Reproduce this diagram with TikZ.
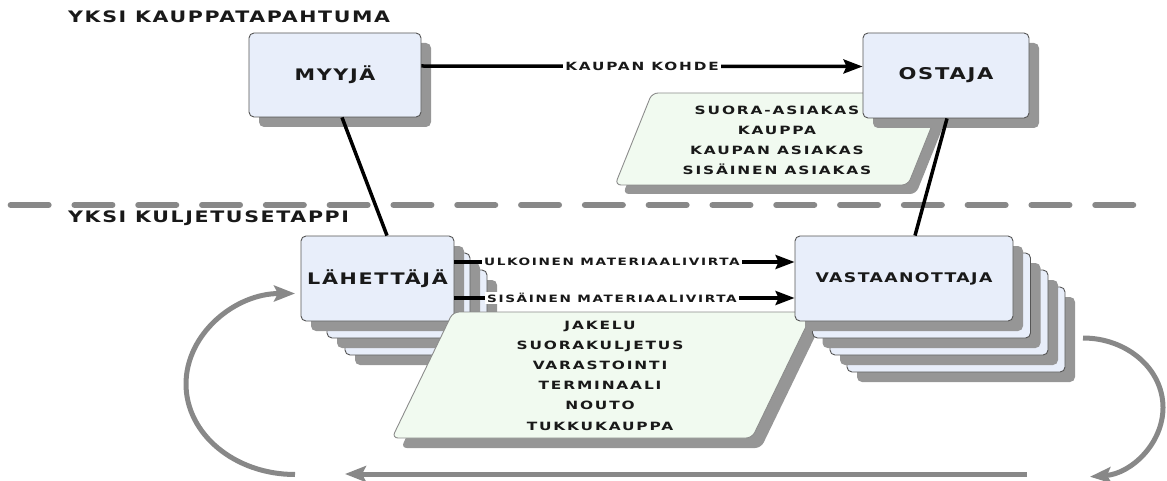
\documentclass[tikz,border=0pt]{standalone}
\usepackage{fontspec}
\usepackage{graphicx}
\usetikzlibrary{arrows.meta,shadows}

% wide, tracked sans for all captions
\newfontfamily\bigf[LetterSpace=8]{DejaVu Sans Bold}
\newfontfamily\smallf[LetterSpace=12]{DejaVu Sans Bold}
\newcommand\wb[1]{\scalebox{1.3}[1]{#1}}
\newcommand\ws[1]{\scalebox{1.35}[1]{#1}}

\definecolor{boxfill}{RGB}{232,238,250}
\definecolor{boxline}{RGB}{85,85,85}
\definecolor{shadowgray}{RGB}{150,150,150}
\definecolor{parafill}{RGB}{241,250,240}
\definecolor{paraline}{RGB}{140,140,140}
\definecolor{loopgray}{RGB}{136,136,136}
\definecolor{ink}{RGB}{25,25,25}

\tikzset{
  blk/.style={draw=boxline, line width=0.9pt, fill=boxfill, rounded corners=5pt,
    inner sep=0pt, text=ink,
    general shadow={fill=shadowgray, shadow xshift=10pt, shadow yshift=-10pt}},
  bigtxt/.style={font=\bigf\fontsize{#1}{#1}\selectfont},
  heading/.style={anchor=west, inner sep=0pt, text=ink, bigtxt=15.8},
  paratxt/.style={align=center, inner sep=0pt, text=ink,
    font=\smallf\fontsize{11.4}{20.2}\selectfont},
  flowlbl/.style={fill=white, inner xsep=2.5pt, inner ysep=1.5pt, text=ink,
    font=\smallf\fontsize{#1}{#1}\selectfont},
  ln/.style={line width=3.5pt, black},
  arr/.style={line width=3.5pt, black, -{Stealth[length=19pt, width=14pt, inset=3pt]}},
  gloop/.style={line width=5pt, loopgray, -{Stealth[length=21pt, width=16pt, inset=4pt]}},
  parabox/.style={fill=parafill, draw=paraline, line width=0.9pt, rounded corners=6pt},
  parashadow/.style={fill=shadowgray, rounded corners=6pt}
}

\begin{document}
\begin{tikzpicture}[x=1pt, y=-1pt]
\useasboundingbox (0,0) rectangle (1167,481);

% boundary between the two levels
\draw[loopgray, line width=6pt, line cap=round, dash pattern=on 38pt off 25.8pt]
  (10.65,205) -- (1134,205);

% level headings
\node[heading] (hdtrade) at (68,17) {\wb{YKSI KAUPPATAPAHTUMA}};
\node[heading] (hdtrans) at (68,218) {\wb{YKSI KULJETUSETAPPI}};

% customer types panel
\begin{scope}[shift={(8,9)}]
  \path[parashadow] (652,93) -- (945,93) -- (908,185) -- (615,185) -- cycle;
\end{scope}
\path[parabox] (652,93) -- (945,93) -- (908,185) -- (615,185) -- cycle;
\node[paratxt] (custtypes) at (777,140.3)
  {\ws{SUORA-ASIAKAS}\\\ws{KAUPPA}\\\ws{KAUPAN ASIAKAS}\\\ws{SISÄINEN ASIAKAS}};

% trade parties
\node[blk, minimum width=172pt, minimum height=84pt, bigtxt=15.9] (myyja) at (335,75) {\wb{MYYJÄ}};
\node[blk, minimum width=166pt, minimum height=85pt, bigtxt=16.2] (ostaja) at (946,75.5) {\wb{OSTAJA}};

% senders (stacked)
\node[blk, minimum width=142pt, minimum height=85pt] (lah3) at (416,312.5) {};
\node[blk, minimum width=143pt, minimum height=85pt] (lah2) at (398.5,295.5) {};
\node[blk, minimum width=153pt, minimum height=85pt, bigtxt=15.9] (lah) at (377.5,278.5) {\wb{LÄHETTÄJÄ}};

% transport types panel
\begin{scope}[shift={(9,10)}]
  \path[parashadow] (453,312) -- (813,312) -- (752,438) -- (392,438) -- cycle;
\end{scope}
\path[parabox] (453,312) -- (813,312) -- (752,438) -- (392,438) -- cycle;
\node[paratxt] (transtypes) at (600,375.5)
  {\ws{JAKELU}\\\ws{SUORAKULJETUS}\\\ws{VARASTOINTI}\\\ws{TERMINAALI}\\\ws{NOUTO}\\\ws{TUKKUKAUPPA}};

% receivers (stacked)
\node[blk, minimum width=218pt, minimum height=85pt] (vas4) at (956,329.5) {};
\node[blk, minimum width=218pt, minimum height=85pt] (vas3) at (939,312.5) {};
\node[blk, minimum width=218pt, minimum height=85pt] (vas2) at (921.5,295.5) {};
\node[blk, minimum width=218pt, minimum height=85pt, bigtxt=13.3] (vas) at (904,278.5) {\wb{VASTAANOTTAJA}};

% links between the levels
\draw[ln] ([xshift=7pt]myyja.south) -- ([xshift=9.5pt]lah.north);
\draw[ln] ([xshift=1pt]ostaja.south) -- ([xshift=11pt]vas.north);

% flows
\draw[arr] ([yshift=9pt]myyja.east) -- node[flowlbl=11.3] (kohde) {\ws{KAUPAN KOHDE}} ([yshift=9pt]ostaja.west);
\draw[arr] ([yshift=16.5pt]lah.east) -- node[flowlbl=10.1, pos=0.463] (ulk) {\ws{ULKOINEN MATERIAALIVIRTA}} ([yshift=16.5pt]vas.west);
\draw[arr] ([yshift=-19.5pt]lah.east) -- node[flowlbl=10.1, pos=0.463] (sis) {\ws{SISÄINEN MATERIAALIVIRTA}} ([yshift=-19.5pt]vas.west);

% return cycle
\coordinate (loopLstart) at (295,474.5);
\coordinate (loopRstart) at (1083,338);
\coordinate (backstart) at (1027,474);
\coordinate (backend) at (345,474);
\draw[gloop] (loopLstart) arc[start angle=270, end angle=90, x radius=109pt, y radius=90.5pt];
\draw[gloop] (loopRstart) arc[start angle=90, end angle=-85, x radius=80pt, y radius=69.5pt];
\draw[gloop] (backstart) -- (backend);
\end{tikzpicture}
\end{document}
